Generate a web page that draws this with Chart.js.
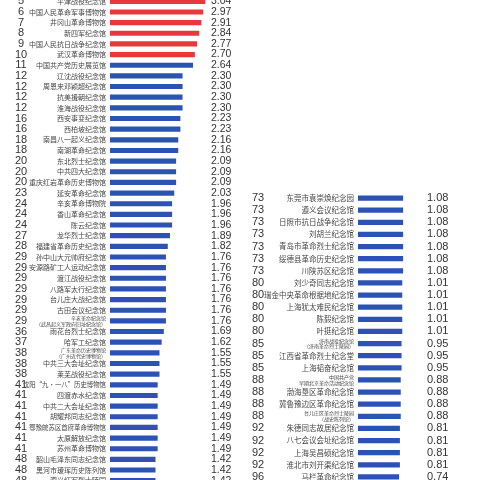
<!DOCTYPE html>
<html>
<head>
<meta charset="utf-8">
<script src="https://cdn.jsdelivr.net/npm/chart.js@4"></script>
<style>
  html, body { margin: 0; padding: 0; background: #fff; width: 480px; height: 480px; overflow: hidden; }
  .box { position: absolute; }
</style>
</head>
<body>
<div class="box" style="left:0;top:-4px;width:240px;height:490px;"><canvas id="left-chart" width="240" height="490"></canvas></div>
<div class="box" style="left:240px;top:192px;width:240px;height:291px;"><canvas id="right-chart" width="240" height="291"></canvas></div>
<script>
// left column: ranks 5 - 48
var leftRanks = [5, 6, 7, 8, 9, 10, 11, 12, 12, 12, 12, 16, 16, 18, 18, 20, 20, 20, 23, 24, 24, 24, 27, 28,
    29, 29, 29, 29, 29, 29, 29, 36, 37, 38, 38, 38, 41, 41, 41, 41, 41, 41, 41, 48, 48, 48];
var leftNames = ["平津战役纪念馆", "中国人民革命军事博物馆", "井冈山革命博物馆", "新四军纪念馆",
    "中国人民抗日战争纪念馆", "武汉革命博物馆", "中国共产党历史展览馆", "辽沈战役纪念馆",
    "周恩来邓颖超纪念馆", "抗美援朝纪念馆", "淮海战役纪念馆", "西安事变纪念馆", "西柏坡纪念馆",
    "南昌八一起义纪念馆", "南湖革命纪念馆", "东北烈士纪念馆", "中共四大纪念馆", "重庆红岩革命历史博物馆",
    "延安革命纪念馆", "辛亥革命博物院", "香山革命纪念馆", "陈云纪念馆", "龙华烈士纪念馆",
    "福建省革命历史纪念馆", "孙中山大元帅府纪念馆", "安源路矿工人运动纪念馆", "渡江战役纪念馆",
    "八路军太行纪念馆", "台儿庄大战纪念馆", "古田会议纪念馆", ["辛亥革命纪念馆", "（武昌起义军政府旧址纪念馆）"],
    "雨花台烈士纪念馆", "哈军工纪念馆", ["广东革命历史博物馆", "（广州近代史博物馆）"], "中共三大会址纪念馆",
    "莱芜战役纪念馆", "沈阳“九·一八”历史博物馆", "四渡赤水纪念馆", "中共二大会址纪念馆", "胡耀邦同志纪念馆",
    "鄂豫皖苏区首府革命博物馆", "太原解放纪念馆", "苏州革命博物馆", "韶山毛泽东同志纪念馆",
    "黑河市瑷珲历史陈列馆", "遵义红军烈士陵园"];
var leftValues = [3.04, 2.97, 2.91, 2.84, 2.77, 2.70, 2.64, 2.30, 2.30, 2.30, 2.30, 2.23, 2.23, 2.16, 2.16,
    2.09, 2.09, 2.09, 2.03, 1.96, 1.96, 1.96, 1.89, 1.82, 1.76, 1.76, 1.76, 1.76, 1.76, 1.76, 1.76,
    1.69, 1.62, 1.55, 1.55, 1.55, 1.49, 1.49, 1.49, 1.49, 1.49, 1.49, 1.49, 1.42, 1.42, 1.42];

// right column: ranks 73 - 96
var rightRanks = [73, 73, 73, 73, 73, 73, 73, 80, 80, 80, 80, 80, 85, 85, 85, 88, 88, 88, 88, 92, 92, 92, 92, 96];
var rightNames = ["东莞市袁崇焕纪念园", "遵义会议纪念馆", "日照市抗日战争纪念馆", "刘胡兰纪念馆",
    "青岛市革命烈士纪念馆", "绥德县革命历史纪念馆", "川陕苏区纪念馆", "刘少奇同志纪念馆",
    "瑞金中央革命根据地纪念馆", "上海犹太难民纪念馆", "陈毅纪念馆", "叶挺纪念馆",
    ["济南战役纪念馆", "（济南革命烈士陵园）"], "江西省革命烈士纪念堂", "上海韬奋纪念馆",
    ["中国共产党", "早期北京革命活动纪念馆"], "渤海垦区革命纪念馆", "冀鲁豫边区革命纪念馆",
    ["台儿庄区革命烈士陵园", "（战史陈列馆）"], "朱德同志故居纪念馆", "八七会议会址纪念馆",
    "上海吴昌硕纪念馆", "淮北市刘开渠纪念馆", "马栏革命纪念馆"];
var rightValues = [1.08, 1.08, 1.08, 1.08, 1.08, 1.08, 1.08, 1.01, 1.01, 1.01, 1.01, 1.01,
    0.95, 0.95, 0.95, 0.88, 0.88, 0.88, 0.88, 0.81, 0.81, 0.81, 0.81, 0.74];

var RED = "#e8383d";
var BLUE = "#2c52b6";
var CJK = "'Noto Sans CJK SC', 'Noto Sans', sans-serif";
var NUM = "'Liberation Sans Narrow', 'Liberation Sans', sans-serif";

// draws rank number and value next to each row
function sidePlugin(ranks, values, rankX, valueX, rankSize, valueSize) {
    return {
        id: 'sideText',
        afterDatasetsDraw: function(chart) {
            var ctx = chart.ctx;
            var yScale = chart.scales.y;
            ctx.save();
            ctx.fillStyle = "#333";
            ctx.textBaseline = "middle";
            for (var i = 0; i < ranks.length; i++) {
                var y = yScale.getPixelForValue(i);
                ctx.font = rankSize + "px " + NUM;
                ctx.textAlign = "center";
                ctx.fillText(String(ranks[i]), rankX, y);
                ctx.font = valueSize + "px " + NUM;
                ctx.textAlign = "left";
                ctx.fillText(values[i].toFixed(2), valueX, y);
            }
            ctx.restore();
        }
    };
}

function makeChart(id, names, values, ranks, opts) {
    return new Chart(document.getElementById(id), {
        type: 'bar',
        data: {
            labels: names,
            datasets: [{
                data: values,
                base: opts.min,
                backgroundColor: values.map(function(v, i) { return i < opts.redCount ? RED : BLUE; }),
                barThickness: opts.barThickness
            }]
        },
        options: {
            indexAxis: 'y',
            responsive: false,
            animation: false,
            devicePixelRatio: 1,
            layout: { padding: 0 },
            plugins: { legend: { display: false }, tooltip: { enabled: false } },
            scales: {
                x: { display: false, min: opts.min, max: opts.max },
                y: {
                    grid: { display: false, drawTicks: false },
                    border: { display: false },
                    afterFit: function(scale) {
                        scale.width = opts.axisWidth;
                        scale.paddingTop = 0;
                        scale.paddingBottom = 0;
                    },
                    ticks: {
                        autoSkip: false,
                        padding: 4,
                        color: "#444",
                        font: function(c) {
                            var lbl = names[c.index];
                            if (Array.isArray(lbl)) return { family: CJK, size: 5, lineHeight: 1.15 };
                            if (lbl.length > opts.longLen) return { family: CJK, size: opts.nameSize - 0.6 };
                            return { family: CJK, size: opts.nameSize };
                        }
                    }
                }
            }
        },
        plugins: [sidePlugin(ranks, values, opts.rankX, opts.valueX, opts.rankSize, opts.valueSize)]
    });
}

makeChart("left-chart", leftNames, leftValues, leftRanks, {
    redCount: 6, barThickness: 4.5, min: -0.05, max: 4.18, axisWidth: 110,
    nameSize: 7, longLen: 11, rankX: 21, valueX: 211, rankSize: 11, valueSize: 10.5
});
makeChart("right-chart", rightNames, rightValues, rightRanks, {
    redCount: 0, barThickness: 4.5, min: -2.7, max: 7.6, axisWidth: 118,
    nameSize: 7.5, longLen: 99, rankX: 18, valueX: 187, rankSize: 11, valueSize: 11
});
</script>
</body>
</html>
